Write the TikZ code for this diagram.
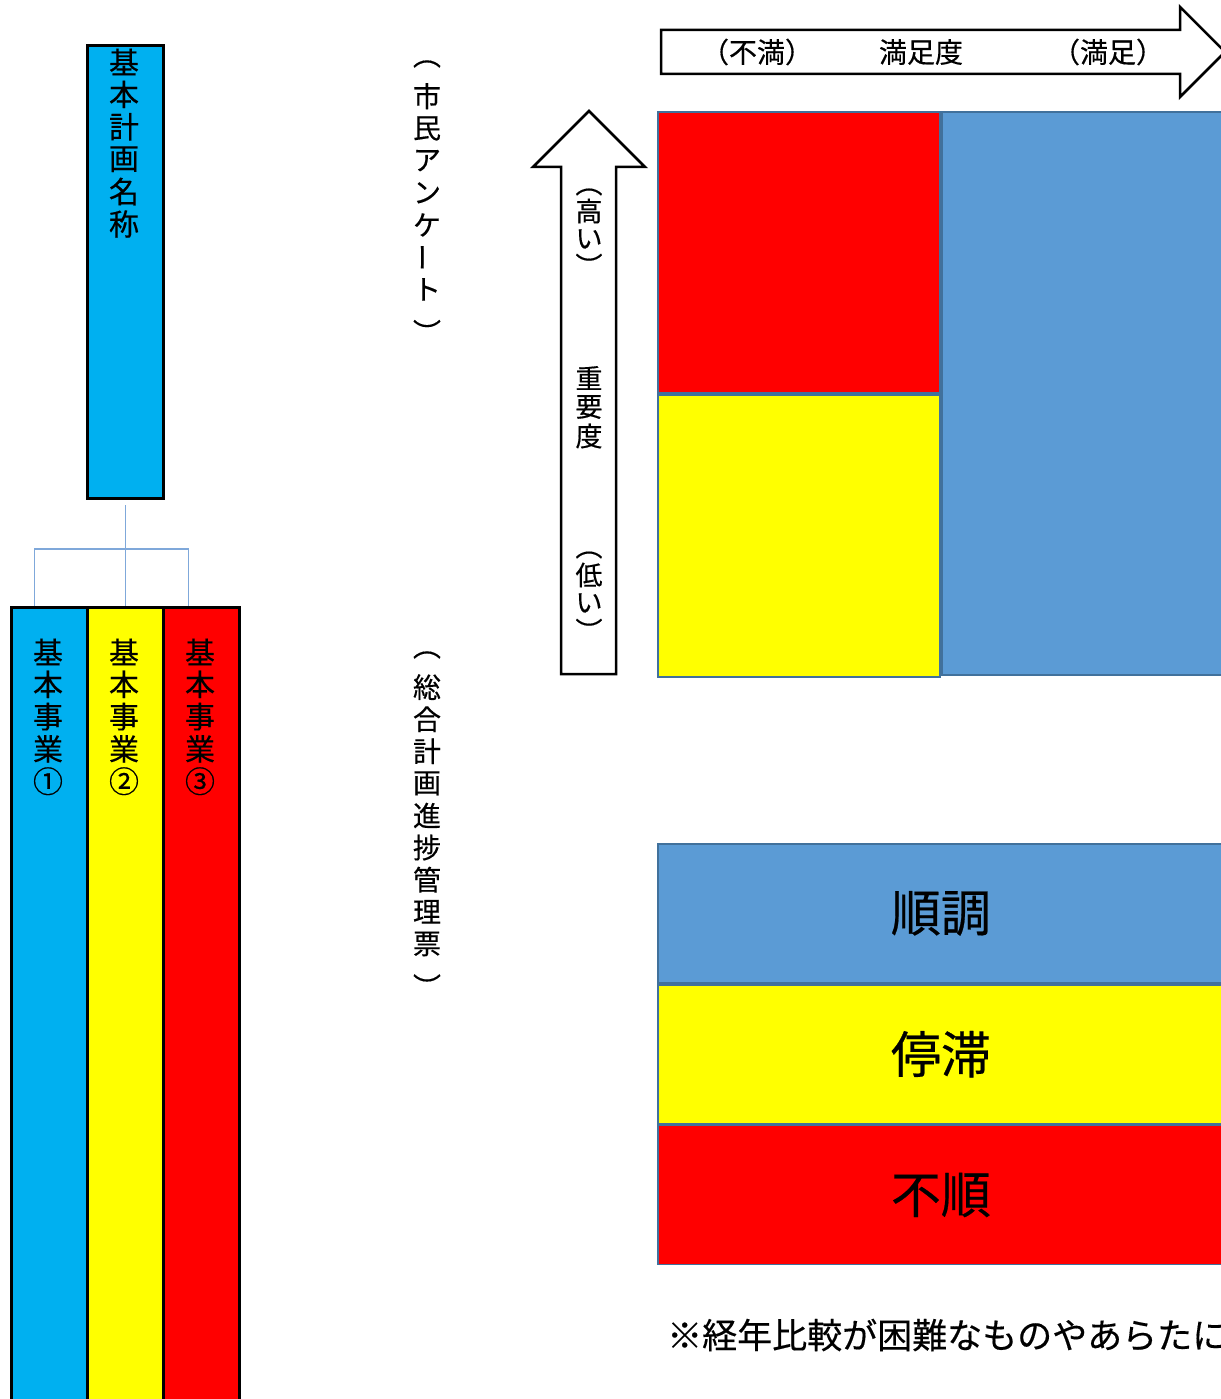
\documentclass[tikz,border=0pt]{standalone}
\usepackage{fontspec}
\setmainfont{Noto Sans CJK JP}[FakeBold=0.4]
\usetikzlibrary{positioning}

\definecolor{kcyan}{HTML}{00B0F0}
\definecolor{kyellow}{HTML}{FFFF00}
\definecolor{kred}{HTML}{FF0000}
\definecolor{kblue}{HTML}{5B9BD5}
\definecolor{kedge}{HTML}{41719C}
\definecolor{klink}{HTML}{7FA8DA}

% closing bracket for vertical text, glyph sits too high
\newcommand{\vclose}{\raisebox{-10pt}[\height][\depth]{︶}}

\begin{document}
\begin{tikzpicture}[x=1pt,y=-1pt,
  box/.style={draw=black, line width=3pt, anchor=north west, inner sep=0pt},
  cell/.style={draw=kedge, line width=1.8pt, anchor=north west, inner sep=0pt},
  vchar/.style={inner sep=0pt, font=\fontsize{30}{30}\selectfont},
  schar/.style={inner sep=0pt, font=\fontsize{28}{28}\selectfont},
  achar/.style={inner sep=0pt, font=\fontsize{27}{27}\selectfont},
  link/.style={draw=klink, line width=1.3pt},
  blockarrow/.style={draw=black, line width=2.5pt, fill=white, line join=miter}]
\useasboundingbox (0,0) rectangle (1220,1399);

% plan and projects
\node[box, fill=kcyan, minimum width=76pt, minimum height=453pt] (plan) at (86,44) {};
\foreach \ch [count=\k from 0] in {基,本,計,画,名,称}
  \node[vchar] (plan-\k) at (124,{62+32.4*\k}) {\ch};
\foreach \i/\c/\n in {1/kcyan/①,2/kyellow/②,3/kred/③}{
  \node[box, fill=\c, minimum width=76pt, minimum height=820pt] (jigyo\i) at ({10+76*(\i-1)},606) {};
  \foreach \ch [count=\k from 0] in {基,本,事,業,\n}
    \node[vchar] (jigyo\i-\k) at ({48+76*(\i-1)},{652+32.3*\k}) {\ch};
}
\coordinate (fork) at (112,549);
\draw[link] ([yshift=-5pt]plan.south) -- (jigyo2.north);
\draw[link] ([xshift=-15pt]jigyo1.north) |- (fork) -| ([xshift=-13pt]jigyo3.north);

% sources
\foreach \ch [count=\k from 0] in {︵,市,民,ア,ン,ケ,\rotatebox[origin=c]{90}{ー},ト,\vclose}
  \node[schar] (survey-\k) at (427,{64+32.2*\k}) {\ch};
\foreach \ch [count=\k from 0] in {︵,総,合,計,画,進,捗,管,理,票,\vclose}
  \node[schar] (ledger-\k) at (427,{655+32.1*\k}) {\ch};

% axes
\draw[blockarrow] (661,30) -- (1180,30) -- (1180,7) -- (1225,52) -- (1180,97) -- (1180,74) -- (661,74) -- cycle;
\node[achar, font=\fontsize{28}{28}\selectfont] (fuman) at (757,52) {（不満）};
\node[achar, font=\fontsize{28}{28}\selectfont] (manzoku) at (921,52) {満足度};
\node[achar, font=\fontsize{28}{28}\selectfont] (manzoku-hi) at (1108,52) {（満足）};

\draw[blockarrow] (561,674) -- (561,167) -- (533,167) -- (589,111) -- (645,167) -- (616,167) -- (616,674) -- cycle;
\foreach \ch/\y [count=\k] in {︵/192,高/211,い/239,\vclose/255,重/378,要/407,度/436,︵/555,低/575,い/603,\vclose/620}
  \node[achar] (juyo-\k) at (589,\y) {\ch};

% matrix
\node[cell, fill=kred, minimum width=282pt, minimum height=281pt] (q-high) at (657,111) {};
\node[cell, fill=kyellow, minimum width=282pt, minimum height=282pt, below=0pt of q-high] (q-low) {};
\node[cell, fill=kblue, minimum width=290pt, minimum height=563pt] (q-good) at (q-high.north east) {};

% legend
\node[cell, fill=kblue, minimum width=566pt, minimum height=139pt, font=\fontsize{50}{50}\selectfont] (junchou) at (657,843) {順調};
\node[cell, fill=kyellow, minimum width=566pt, minimum height=139pt, font=\fontsize{50}{50}\selectfont, below=0pt of junchou] (teitai) {停滞};
\node[cell, fill=kred, minimum width=566pt, minimum height=139pt, font=\fontsize{50}{50}\selectfont, below=0pt of teitai] (fujun) {不順};

\node[anchor=west, inner sep=0pt, font=\fontsize{35}{35}\selectfont] (note) at (667,1335) {※経年比較が困難なものやあらたに};
\end{tikzpicture}
\end{document}
